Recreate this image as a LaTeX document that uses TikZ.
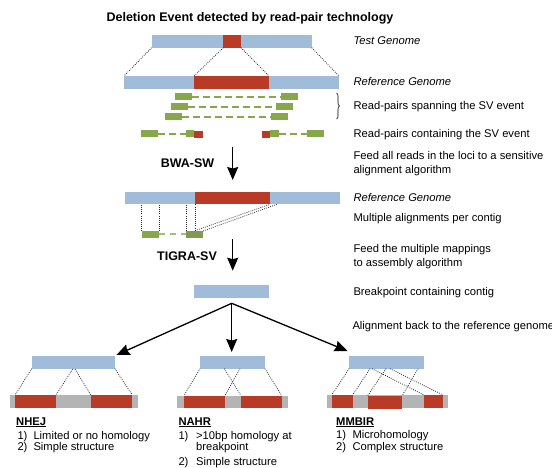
\documentclass[tikz,border=0pt]{standalone}
\usepackage{fontspec}
\setmainfont{Liberation Sans}
\usetikzlibrary{arrows.meta,decorations.pathreplacing}

\definecolor{genblue}{HTML}{A0BCD8}
\definecolor{delred}{HTML}{BA3A28}
\definecolor{readgreen}{HTML}{86A84A}
\definecolor{flankgray}{HTML}{B4B4B4}

\tikzset{
  bar/.style={rectangle, inner sep=0pt, outer sep=0pt, anchor=north west,
    minimum height=12.7pt, fill=genblue},
  delbar/.style={bar, fill=delred},
  flankbar/.style={bar, fill=flankgray},
  read/.style={rectangle, inner sep=0pt, outer sep=0pt, anchor=west,
    minimum width=16.7pt, minimum height=6.5pt, fill=readgreen},
  readlink/.style={readgreen, line width=2pt, dash pattern=on 7pt off 4pt},
  mapline/.style={line width=0.8pt, dash pattern=on 0.8pt off 1.3pt, black!85},
  bigarrow/.style={-{Stealth[length=13pt,width=11pt,inset=1.5pt]}, line width=1.3pt},
  lbl/.style={anchor=base west, inner sep=0pt, font=\fontsize{11.2}{13.3}\selectfont},
  toollbl/.style={anchor=base, inner sep=0pt, font=\fontsize{12.5}{15}\selectfont\bfseries}
}

\begin{document}
\begin{tikzpicture}[x=1pt, y=-1pt]

    % Fix the page to the size of the reference
    \useasboundingbox (0,0) rectangle (552,467);

    % Title
    \node[toollbl] (title) at (250,21.7) {Deletion Event detected by read-pair technology};

    % Test genome with the small deleted part
    \node[bar, minimum width=160pt] (test) at (151.7,35) {};
    \node[delbar, minimum width=17.7pt] (testdel) at (223.3,35) {};

    % Reference genome with the larger deleted part
    \node[bar, minimum width=215pt] (ref) at (124,76) {};
    \node[delbar, minimum width=75pt] (refdel) at (194,76) {};

    % Dotted lines from test genome to reference genome
    \draw[mapline] (test.south west) -- (ref.north west);
    \draw[mapline] (testdel.south west) -- (refdel.north west);
    \draw[mapline] (testdel.south east) -- (refdel.north east);
    \draw[mapline] (test.south east) -- (ref.north east);

    % Read-pairs spanning the event
    \node[read] (spanAa) at (175,96.5) {};
    \node[read] (spanAb) at (281,96.5) {};
    \node[read] (spanBa) at (171,106.7) {};
    \node[read] (spanBb) at (276,106.7) {};
    \node[read] (spanCa) at (165,116.7) {};
    \node[read] (spanCb) at (271,116.7) {};
    \draw[readlink] (spanAa.east) -- (spanAb.west);
    \draw[readlink] (spanBa.east) -- (spanBb.west);
    \draw[readlink] (spanCa.east) -- (spanCb.west);

    % Brace grouping the spanning pairs
    \draw[line width=0.6pt, decorate, decoration={brace, amplitude=3pt}]
        (336.5,93) -- (336.5,119);

    % Read-pairs containing the event (split reads)
    \node[read] (splitAa) at (141,133.5) {};
    \node[read, minimum width=8pt] (splitAb) at (186,133.5) {};
    \node[read, minimum width=8.7pt, minimum height=7pt, fill=delred] (splitAc) at (194,134) {};
    \draw[readlink] (splitAa.east) -- (splitAb.west);
    \node[read, minimum width=8pt, minimum height=7pt, fill=delred] (splitBa) at (262,134) {};
    \node[read, minimum width=9pt] (splitBb) at (270,133.5) {};
    \node[read] (splitBc) at (307,133.5) {};
    \draw[readlink] (splitBb.east) -- (splitBc.west);

    % First tool step
    \node[toollbl] (bwa) at (187.5,167) {BWA-SW};
    \coordinate (bwatop) at (232.7,146.7);
    \coordinate (bwabot) at (232.7,180);
    \draw[bigarrow] (bwatop) -- (bwabot);

    % Reference genome with the aligned contig
    \node[bar, minimum width=215pt] (reftwo) at (125,191.7) {};
    \node[delbar, minimum width=75pt] (reftwodel) at (195,191.7) {};
    \node[read, minimum width=17.3pt] (contA) at (141.7,234.3) {};
    \node[read, fill=readgreen!85!black!90] (contB) at (186,234.3) {};
    \draw[readlink, readgreen!75, dash pattern=on 6pt off 5pt, line width=1.8pt]
        (contA.east) -- (contB.west);

    % Multiple alignments of the contig pieces
    \draw[mapline] (contA.north west) -- (contA.north west |- reftwo.south);
    \draw[mapline] (contA.north east) -- (contA.north east |- reftwo.south);
    \draw[mapline] (contB.north west) -- (contB.north west |- reftwo.south);
    \draw[mapline] (reftwodel.south west) -- (reftwodel.south west |- contB.north);
    \coordinate (diagA) at (195,230.6);
    \coordinate (diagB) at (203,231);
    \draw[mapline] (diagA) -- (reftwodel.south east);
    \draw[mapline] (diagB) -- (276.7,204.4);

    % Second tool step
    \node[toollbl] (tigra) at (187,260.5) {TIGRA-SV};
    \coordinate (tigtop) at (232.7,239.3);
    \coordinate (tigbot) at (232.7,270.7);
    \draw[bigarrow] (tigtop) -- (tigbot);

    % Assembled contig
    \node[bar, minimum width=74.7pt] (contig) at (194.3,285) {};
    \coordinate (fork) at (231.7,303.3);

    % Labels on the right side
    \node[lbl, font=\fontsize{11.2}{13.3}\selectfont\itshape] (ltest) at (353.3,44.3) {Test Genome};
    \node[lbl, font=\fontsize{11.2}{13.3}\selectfont\itshape] (lref) at (353.3,85) {Reference Genome};
    \node[lbl] (lspan) at (353.3,109.5) {Read-pairs spanning the SV event};
    \node[lbl] (lsplit) at (353.3,137.5) {Read-pairs containing the SV event};
    \node[lbl] (lfeedA) at (353.3,159.7) {Feed all reads in the loci to a sensitive};
    \node[lbl] (lfeedB) at (353.3,173) {alignment algorithm};
    \node[lbl, font=\fontsize{11.2}{13.3}\selectfont\itshape] (lreftwo) at (353.3,201.7) {Reference Genome};
    \node[lbl] (lmulti) at (353.3,221) {Multiple alignments per contig};
    \node[lbl] (lmapA) at (353.3,252.7) {Feed the multiple mappings};
    \node[lbl] (lmapB) at (353.3,266) {to assembly algorithm};
    \node[lbl] (lbreak) at (353.3,295) {Breakpoint containing contig};
    \node[lbl] (lback) at (352.3,329.5) {Alignment back to the reference genome};

    % NHEJ: contig and its alignment
    \node[bar, minimum width=83.3pt] (nhejc) at (31.7,356) {};
    \node[flankbar, minimum width=127.7pt] (nhejg) at (10,395) {};
    \node[delbar, minimum width=41pt] (nhejrA) at (15,395) {};
    \node[delbar, minimum width=41.6pt] (nhejrB) at (90.7,395) {};
    \draw[mapline] (nhejc.south west) -- (nhejrA.north west);
    \draw[mapline] (72.7,369) -- (nhejrA.north east);
    \draw[mapline] (75,369) -- (nhejrB.north west);
    \draw[mapline] (nhejc.south east) -- (nhejrB.north east);

    % NAHR: contig and its alignment
    \node[bar, minimum width=65pt] (nahrc) at (200,356) {};
    \node[flankbar, minimum width=111pt] (nahrg) at (177.3,395.5) {};
    \node[delbar, minimum width=41pt] (nahrrA) at (184,395.5) {};
    \node[delbar, minimum width=40.7pt] (nahrrB) at (241,395.5) {};
    \draw[mapline] (nahrc.south west) -- (nahrrA.north west);
    \draw[mapline] (224.3,368.7) -- (nahrrB.north west);
    \draw[mapline] (240,368.7) -- (nahrrA.north east);
    \draw[mapline] (nahrc.south east) -- (nahrrB.north east);

    % MMBIR: contig and its alignment
    \node[bar, minimum width=75pt] (mmbirc) at (349,356) {};
    \node[flankbar, minimum width=120.7pt] (mmbirg) at (327,395) {};
    \node[delbar, minimum width=21pt] (mmbirrA) at (331.7,395) {};
    \node[delbar, minimum width=34.6pt, minimum height=13.5pt] (mmbirrB) at (367.7,395.5) {};
    \node[delbar, minimum width=19pt] (mmbirrC) at (424,395) {};
    \draw[mapline] (mmbirc.south west) -- (mmbirrA.north west);
    \draw[mapline] (370,368.7) -- (mmbirrA.north east);
    \draw[mapline] (372,368.7) -- (mmbirrC.north west);
    \draw[mapline] (386,368.7) -- (mmbirrB.north west);
    \draw[mapline] (390,368.7) -- (mmbirrC.north east);
    \draw[mapline] (418,368.7) -- (mmbirrB.north east);

    % Arrows from the assembled contig to the three mechanisms
    \draw[bigarrow] (fork) -- ([shift={(1.5,-1)}]nhejc.north east);
    \draw[bigarrow, shorten >=4pt] (fork) -- (fork |- nahrc.north);
    \draw[bigarrow] (fork) -- ([shift={(-1.5,-5)}]mmbirc.north west);

    % Mechanism captions
    \node[lbl] (nhej) at (16,425) {\textbf{\underline{NHEJ}}};
    \node[lbl] (nhejA) at (17.3,439) {1)};
    \node[lbl] (nhejAt) at (33.3,439) {Limited or no homology};
    \node[lbl] (nhejB) at (17.3,450.7) {2)};
    \node[lbl] (nhejBt) at (33.3,450.7) {Simple structure};

    \node[lbl] (nahr) at (178.3,425) {\textbf{\underline{NAHR}}};
    \node[lbl] (nahrA) at (178.3,439) {1)};
    \node[lbl] (nahrAt) at (196,439) {>10bp homology at};
    \node[lbl] (nahrAu) at (196,450.7) {breakpoint};
    \node[lbl] (nahrB) at (178.3,465) {2)};
    \node[lbl] (nahrBt) at (196,465) {Simple structure};

    \node[lbl] (mmbir) at (336,425) {\textbf{\underline{MMBIR}}};
    \node[lbl] (mmbirA) at (336,438.7) {1)};
    \node[lbl] (mmbirAt) at (352.3,438.7) {Microhomology};
    \node[lbl] (mmbirB) at (336,450.7) {2)};
    \node[lbl] (mmbirBt) at (352.3,450.7) {Complex structure};

\end{tikzpicture}
\end{document}
